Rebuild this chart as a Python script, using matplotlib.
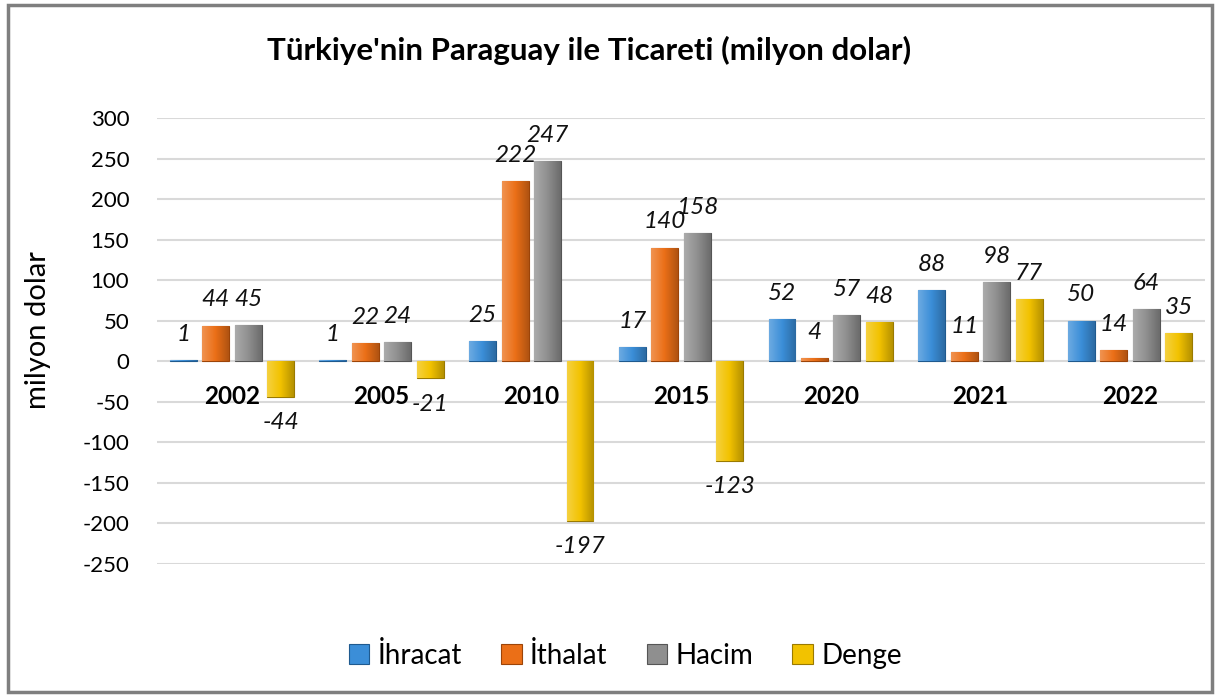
import numpy as np
import matplotlib
matplotlib.use("Agg")
import matplotlib.pyplot as plt
from matplotlib.colors import to_rgb, LinearSegmentedColormap
from matplotlib.patches import Rectangle

plt.rcParams['font.family'] = ['Lato', 'DejaVu Sans']

# veriler
years = ['2002', '2005', '2010', '2015', '2020', '2021', '2022']
ihracat = [1, 1, 25, 17, 52, 88, 50]
ithalat = [44, 22, 222, 140, 4, 11, 14]
hacim = [45, 24, 247, 158, 57, 98, 64]
denge = [-44, -21, -197, -123, 48, 77, 35]
series_names = ['İhracat', 'İthalat', 'Hacim', 'Denge']
yticks = [300, 250, 200, 150, 100, 50, 0, -50, -100, -150, -200, -250]

colors = ['#3b8ed8', '#eb6f17', '#8f8f8f', '#f2c200']
edges = ['#1f5a8f', '#9c4408', '#555555', '#9a7a00']

fig = plt.figure(figsize=(12.19, 6.97), dpi=100)
ax = fig.add_axes([0.1288, 0.1908, 0.8597, 0.6399])

# dış çerçeve
fig.patches.append(Rectangle((8 / 1219, 5 / 697), 1204 / 1219, 687 / 697,
                             transform=fig.transFigure, fill=False,
                             edgecolor='#7f7f7f', linewidth=2.5))

x = np.arange(len(years))
step = 0.217
width = 0.18


def shade(c, f):
    r = np.array(to_rgb(c))
    if f > 0:
        return tuple(r + (1 - r) * f)
    return tuple(r * (1 + f))


all_series = [ihracat, ithalat, hacim, denge]
for k, vals in enumerate(all_series):
    pos = x + (k - 1.5) * step
    bars = ax.bar(pos, vals, width, color=colors[k], edgecolor=edges[k],
                  linewidth=0.8, label=series_names[k], zorder=3)
    cmap = LinearSegmentedColormap.from_list(
        'g', [shade(colors[k], 0.25), colors[k], shade(colors[k], -0.25)])
    grad = np.linspace(0, 1, 64).reshape(1, -1)
    for b, v in zip(bars, vals):
        x0 = b.get_x()
        y0, y1 = sorted([0, v])
        im = ax.imshow(grad, cmap=cmap, aspect='auto',
                       extent=[x0, x0 + width, y0, y1], zorder=3.5)
        im.set_clip_path(b)
        ax.annotate(str(v), (b.get_x() + width / 2, v),
                    xytext=(0, 11 if v >= 0 else -11), textcoords='offset points',
                    ha='center', va='bottom' if v >= 0 else 'top',
                    fontsize=17.5, style='italic', color='#111111', zorder=5)

ax.set_xlim(-0.5, len(years) - 0.5)
ax.set_ylim(-250, 300)
ax.set_yticks(yticks)
ax.set_yticklabels([str(t) for t in yticks], fontsize=16)
ax.set_xticks([])
ax.tick_params(axis='y', length=0, pad=20)
ax.grid(axis='y', color='#d9d9d9', linewidth=1.5, zorder=0)
for s in ax.spines.values():
    s.set_visible(False)

# kategori etiketleri
for i, yr in enumerate(years):
    ax.annotate(yr, (i, 0), xytext=(0, -25), textcoords='offset points',
                ha='center', va='center', fontsize=17.5, fontweight='bold',
                zorder=5)

fig.text(0.031, 0.527, 'milyon dolar', rotation=90, ha='center', va='center',
         fontsize=21)
fig.text(0.483, 0.927, "Türkiye'nin Paraguay ile Ticareti (milyon dolar)",
         ha='center', va='center', fontsize=22.5, fontweight='bold')

fig.legend(loc='center', bbox_to_anchor=(0.513, 0.06), ncol=4, frameon=False,
           fontsize=20, handlelength=0.75, handleheight=0.75, columnspacing=1.4,
           handletextpad=0.3)

fig.savefig('out.png', dpi=100)
